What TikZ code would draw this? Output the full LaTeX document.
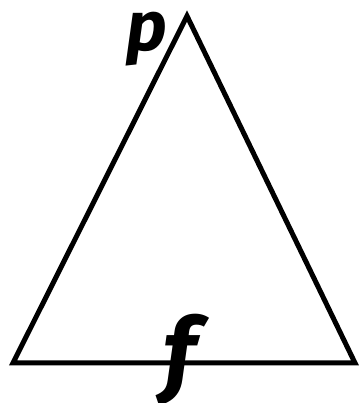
\documentclass[tikz,border=0pt]{standalone}
\usepackage{fontspec}
\newfontfamily\labelfont{Fira Sans}
\usetikzlibrary{positioning}

\begin{document}
\begin{tikzpicture}[x=1pt,y=1pt,
  side/.style={line width=5pt, line join=miter},
  letter/.style={inner sep=0pt, font=\labelfont\bfseries\itshape}]
\useasboundingbox (0,0) rectangle (360,403);
\coordinate (apex) at (187,387);
\coordinate (left) at (13,40);
\coordinate (right) at (355,40);
\draw[side] (apex) -- (right) -- (left) -- cycle;
\node[letter, font=\labelfont\bfseries\itshape\fontsize{70}{70}\selectfont] (p) at (147,364) {p};
\node[letter, font=\labelfont\bfseries\itshape\fontsize{94}{94}\selectfont] (f) at (180,43) {f};
\end{tikzpicture}
\end{document}
